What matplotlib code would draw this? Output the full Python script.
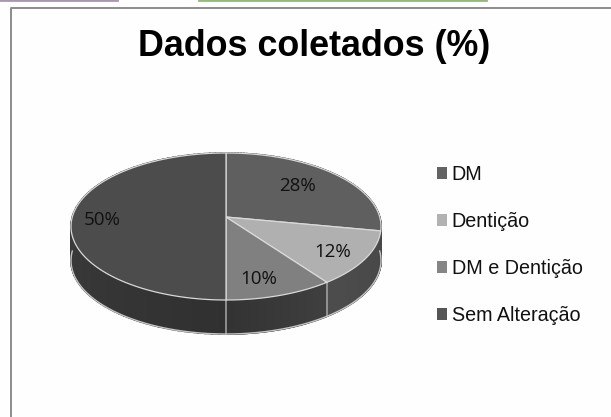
import numpy as np
import matplotlib
matplotlib.use("Agg")
import matplotlib.pyplot as plt
from matplotlib.patches import Patch

#Chart data
categories = ["DM", "Dentição", "DM e Dentição", "Sem Alteração"]
values = [28, 12, 10, 50]
pct_labels = ["28%", "12%", "10%", "50%"]
title = "Dados coletados (%)"

#Colours of the top of each slice, and the legend squares
top_colors = ["#5f5f5f", "#b0b0b0", "#808080", "#4c4c4c"]
legend_colors = ["#636363", "#b2b2b2", "#858585", "#555555"]
#Side shading at the start and end of each slice (clockwise)
side_start = [0.30, 0.28, 0.25, 0.19]
side_end = [0.28, 0.30, 0.20, 0.27]

#Pie geometry in pixels
cx, cy = 226, 226.5
rx, ry = 155, 73.5
k = 0.129
depth = 34
label_pos = [(297, 186), (333, 252), (259, 279), (102, 220)]


#Point of the tilted pie, theta is clockwise from the top
def rim(theta, r=1.0):
    u = r * np.sin(theta)
    v = r * np.cos(theta)
    den = 1 + k * v
    x = cx + rx * np.sqrt(1 - k * k) * u / den
    y = cy - (ry * v + ry * k) / den
    return x, y


plt.rcParams['font.family'] = ['Liberation Sans', 'DejaVu Sans']
fig = plt.figure(figsize=(6.11, 4.17), dpi=100, facecolor="#fefefe")
ax = fig.add_axes([0, 0, 1, 1])
ax.set_xlim(0, 611)
ax.set_ylim(417, 0)
ax.axis("off")

#Frame and the bits of other boxes at the top edge
ax.plot([11, 11, 611], [417, 7.5, 7.5], color="#8c8c8c", lw=1.4)
ax.plot([0, 117], [0, 0], color="#a897b4", lw=2)
ax.plot([199, 486], [0, 0], color="#93b97c", lw=2)

edges = np.cumsum([0] + values) / sum(values) * 2 * np.pi

#Side wall, thin strips so the shade can change along the slice
for i in range(len(values)):
    th = np.linspace(edges[i], edges[i + 1], 80)
    for j in range(len(th) - 1):
        x0, y0 = rim(th[j])
        x1, y1 = rim(th[j + 1])
        t = j / (len(th) - 2)
        g = side_start[i] + (side_end[i] - side_start[i]) * t
        ax.fill([x0, x1, x1, x0], [y0, y1, y1 + depth, y0 + depth],
                facecolor=(g, g, g), edgecolor=(g, g, g), lw=1.2, zorder=2)

#Light lines on the wall where slices meet, and the bottom rim
for e in edges[2:4]:
    x, y = rim(e)
    ax.plot([x, x], [y, y + depth], color="#a8a8a8", lw=1.1, zorder=3)
th = np.linspace(np.pi * 0.5, np.pi * 1.5, 200)
xb, yb = rim(th)
ax.plot(xb, yb + depth, color="#c4c4c4", lw=1, zorder=3)

#Top of the pie
for i in range(len(values)):
    th = np.linspace(edges[i], edges[i + 1], 120)
    xs, ys = rim(th)
    x0, y0 = rim(0, 0)
    ax.fill(np.r_[x0, xs], np.r_[y0, ys], facecolor=top_colors[i],
            edgecolor="#d9d9d9", lw=0.9, joinstyle="round", zorder=4)

for lab, (x, y) in zip(pct_labels, label_pos):
    ax.text(x, y, lab, ha="center", va="center", fontsize=13.5,
            family=["Open Sans", "DejaVu Sans"], color="#111111", zorder=5)

ax.text(314, 46, title, ha="center", va="center", fontsize=25.8,
        fontweight="bold", color="black")

handles = [Patch(facecolor=c, edgecolor="none") for c in legend_colors]
ax.legend(handles, categories, loc="upper left", bbox_to_anchor=(437 / 611, 1 - 165 / 417),
          frameon=False, fontsize=14.2, labelspacing=1.42, handlelength=0.5,
          handleheight=0.5, handletextpad=0.25, borderpad=0, borderaxespad=0,
          labelcolor="#111111")

fig.savefig("out.png", dpi=100, facecolor=fig.get_facecolor())
